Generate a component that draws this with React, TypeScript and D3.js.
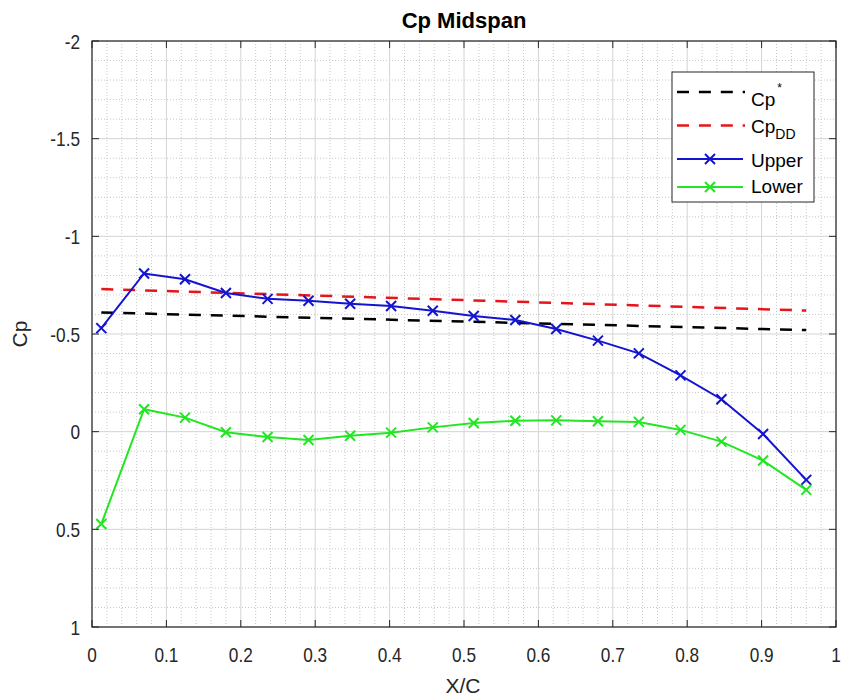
import React from "react";
import * as d3 from "d3";

const xStations = [0.0125, 0.07, 0.125, 0.18, 0.236, 0.291, 0.347, 0.402, 0.458, 0.513, 0.569, 0.624, 0.68, 0.735, 0.791, 0.846, 0.902, 0.96];
const upperCp = [-0.53, -0.81, -0.78, -0.71, -0.68, -0.67, -0.655, -0.643, -0.619, -0.592, -0.572, -0.526, -0.466, -0.401, -0.288, -0.166, 0.012, 0.247];
const lowerCp = [0.473, -0.115, -0.072, 0.003, 0.027, 0.043, 0.021, 0.005, -0.022, -0.044, -0.056, -0.058, -0.053, -0.05, -0.009, 0.051, 0.148, 0.298];
const refX = [0.0125, 0.96];
const cpStar = [-0.61, -0.52];
const cpDD = [-0.73, -0.62];
const xTicks = [0, 0.1, 0.2, 0.3, 0.4, 0.5, 0.6, 0.7, 0.8, 0.9, 1];
const yTicks = [-2, -1.5, -1, -0.5, 0, 0.5, 1];

const W = 843, H = 696;
const L = 92, R = 836, T = 41, B = 627;
const FONT = "'Liberation Sans', Arial, Helvetica, sans-serif";
const DASH = "12,9.9";

export default function App() {
  const x = d3.scaleLinear().domain([0, 1]).range([L, R]);
  const y = d3.scaleLinear().domain([-2, 1]).range([T, B]);
  const line = d3.line<[number, number]>().x((d) => x(d[0])).y((d) => y(d[1]));
  const minorX = d3.range(0, 1.0001, 0.02).filter((v) => Math.abs(v * 10 - Math.round(v * 10)) > 1e-6);
  const minorY = d3.range(-2, 1.0001, 0.1).filter((v) => Math.abs(v * 2 - Math.round(v * 2)) > 1e-6);
  const upperPts = xStations.map((v, i) => [v, upperCp[i]] as [number, number]);
  const lowerPts = xStations.map((v, i) => [v, lowerCp[i]] as [number, number]);
  const starPts = refX.map((v, i) => [v, cpStar[i]] as [number, number]);
  const ddPts = refX.map((v, i) => [v, cpDD[i]] as [number, number]);
  const blue = "#1414d0";
  const green = "#22e622";
  const red = "#e8141c";
  const cross = (cx: number, cy: number, c: string, k: string) => (
    <path key={k} d={`M${cx - 5},${cy - 5}L${cx + 5},${cy + 5}M${cx - 5},${cy + 5}L${cx + 5},${cy - 5}`} stroke={c} strokeWidth={2} fill="none" />
  );
  const tickLen = 7;
  const ink = "#262626";
  return (
    <svg width={W} height={H} style={{ position: "absolute", left: 0, top: 0, background: "#fff" }} fontFamily={FONT}>
      <rect x={0} y={0} width={W} height={H} fill="#fff" />
      {/* minor grid */}
      {minorX.map((v, i) => (
        <line key={"mx" + i} x1={x(v)} x2={x(v)} y1={T} y2={B} stroke="#c8c8c8" strokeWidth={1} strokeDasharray="1,2" />
      ))}
      {minorY.map((v, i) => (
        <line key={"my" + i} x1={L} x2={R} y1={y(v)} y2={y(v)} stroke="#c8c8c8" strokeWidth={1} strokeDasharray="1,2" />
      ))}
      {/* major grid */}
      {xTicks.map((v, i) => (
        <line key={"gx" + i} x1={x(v)} x2={x(v)} y1={T} y2={B} stroke="#d4d4d4" strokeWidth={1} />
      ))}
      {yTicks.map((v, i) => (
        <line key={"gy" + i} x1={L} x2={R} y1={y(v)} y2={y(v)} stroke="#d4d4d4" strokeWidth={1} />
      ))}
      {/* data */}
      <path d={line(starPts) || ""} stroke="#000" strokeWidth={2.5} fill="none" strokeDasharray={DASH} />
      <path d={line(ddPts) || ""} stroke={red} strokeWidth={2.5} fill="none" strokeDasharray={DASH} />
      <path d={line(upperPts) || ""} stroke={blue} strokeWidth={2} fill="none" />
      {upperPts.map((p, i) => cross(x(p[0]), y(p[1]), blue, "u" + i))}
      <path d={line(lowerPts) || ""} stroke={green} strokeWidth={2} fill="none" />
      {lowerPts.map((p, i) => cross(x(p[0]), y(p[1]), green, "l" + i))}
      {/* axes box */}
      <rect x={L} y={T} width={R - L} height={B - T} fill="none" stroke={ink} strokeWidth={1.2} />
      {xTicks.map((v, i) => (
        <g key={"tx" + i}>
          <line x1={x(v)} x2={x(v)} y1={B} y2={B - tickLen} stroke={ink} />
          <line x1={x(v)} x2={x(v)} y1={T} y2={T + tickLen} stroke={ink} />
          <text transform={`translate(${x(v)},662) scale(0.82,1)`} textAnchor="middle" fontSize={21} fill={ink}>{String(v)}</text>
        </g>
      ))}
      {yTicks.map((v, i) => (
        <g key={"ty" + i}>
          <line x1={L} x2={L + tickLen} y1={y(v)} y2={y(v)} stroke={ink} />
          <line x1={R} x2={R - tickLen} y1={y(v)} y2={y(v)} stroke={ink} />
          <text transform={`translate(80,${y(v) + 7.5}) scale(0.82,1)`} textAnchor="end" fontSize={21} fill={ink}>{String(v)}</text>
        </g>
      ))}
      {/* labels */}
      <text x={464} y={28} textAnchor="middle" fontSize={22} fontWeight="bold" fill="#000">Cp Midspan</text>
      <text x={463} y={693} textAnchor="middle" fontSize={21} fill={ink}>X/C</text>
      <text transform={`translate(27,${(T + B) / 2}) rotate(-90)`} textAnchor="middle" fontSize={21} fill={ink}>Cp</text>
      {/* legend */}
      <rect x={672} y={72} width={142} height={130} fill="#fff" stroke={ink} strokeWidth={1} />
      <line x1={677} x2={745} y1={92} y2={92} stroke="#000" strokeWidth={2.5} strokeDasharray={DASH} />
      <text x={751} y={105.5} fontSize={19} fill="#000">
        Cp<tspan dx={2} dy={-14} fontSize={12}>*</tspan>
      </text>
      <line x1={677} x2={745} y1={125.5} y2={125.5} stroke={red} strokeWidth={2.5} strokeDasharray={DASH} />
      <text x={751} y={133} fontSize={19} fill="#000">
        Cp<tspan dy={6} fontSize={14}>DD</tspan>
      </text>
      <line x1={677} x2={743} y1={159} y2={159} stroke={blue} strokeWidth={2} />
      {cross(710, 159, blue, "lcu")}
      <text x={751} y={166.5} fontSize={19} fill="#000">Upper</text>
      <line x1={677} x2={743} y1={187} y2={187} stroke={green} strokeWidth={2} />
      {cross(710, 187, green, "lcl")}
      <text x={751} y={193} fontSize={19} fill="#000">Lower</text>
    </svg>
  );
}
